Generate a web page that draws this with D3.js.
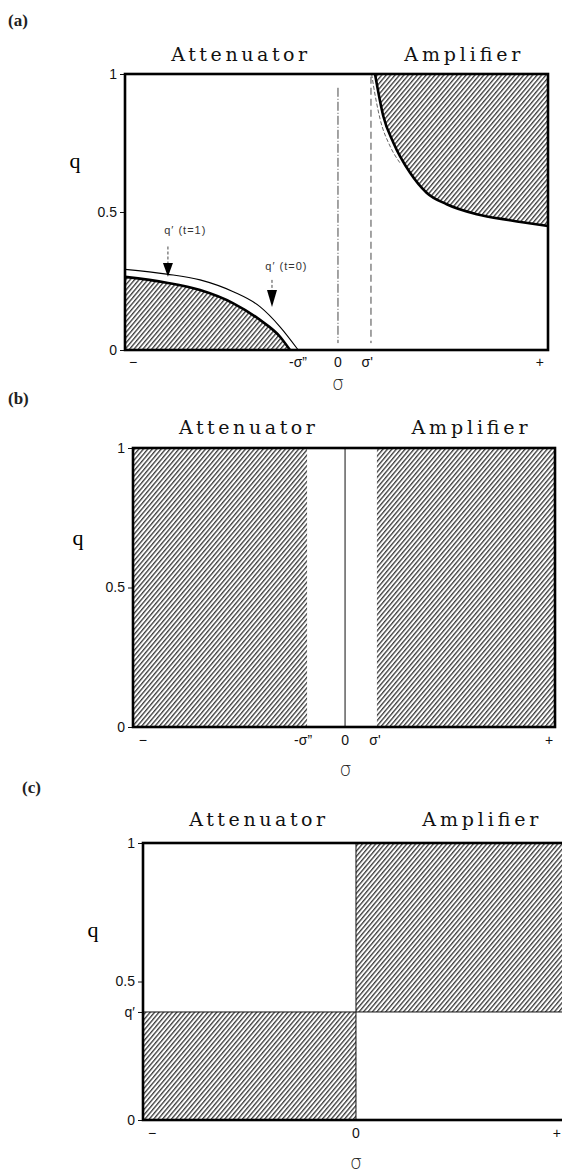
<!DOCTYPE html>
<html><head><meta charset="utf-8">
<script src="https://cdn.jsdelivr.net/npm/d3@7"></script>
<style>body{margin:0;background:#fff}svg{display:block}</style>
</head><body>
<script>
// ---------- data ----------
const panelNames = ["(a)", "(b)", "(c)"];
const regionNames = ["Attenuator", "Amplifier"];
const regionCenters = [-0.46, 0.595];
const yTickValues = [0, 0.5, 1];
const yTickLabels = ["0", "0.5", "1"];

// panel (a)
const attSigmaT1 = [-1, -0.803, -0.645, -0.488, -0.362, -0.267, -0.220];
const attQT1     = [0.265, 0.244, 0.217, 0.169, 0.109, 0.048, 0];
const attSigmaT0 = [-1, -0.803, -0.645, -0.488, -0.362, -0.267, -0.181];
const attQT0     = [0.292, 0.275, 0.254, 0.211, 0.157, 0.084, 0];
const ampSigma   = [0.182, 0.221, 0.269, 0.348, 0.426, 0.521, 0.663, 0.820, 1.0];
const ampQ       = [1, 0.848, 0.751, 0.642, 0.570, 0.528, 0.492, 0.470, 0.449];
const ampSigmaDash = [0.166, 0.175, 0.206, 0.253, 0.300];
const ampQDash     = [1, 0.957, 0.837, 0.739, 0.678];
const sigmaPrimeA = 0.163;
const xLabelsA = ["−", "-σ\u201D", "0", "σ'", "+"];
const xLabelPosA = [-0.962, -0.182, 0.007, 0.145, 0.962];

// panel (b)
const sigmaDoublePrimeB = -0.175;
const sigmaPrimeB = 0.156;
const xLabelsB = ["−", "-σ\u201D", "0", "σ'", "+"];
const xLabelPosB = [-0.953, -0.194, 0.005, 0.147, 0.972];

// panel (c)
const qPrimeC = 0.39;
const xLabelsC = ["−", "0", "+"];
const xLabelPosC = [-0.957, 0.007, 0.957];

// ---------- layout ----------
const W = 562, H = 1174;
const svg = d3.select("body").append("svg").attr("width", W).attr("height", H);
const defs = svg.append("defs");
const pat = defs.append("pattern").attr("id", "hatch")
  .attr("width", 3.4).attr("height", 10)
  .attr("patternUnits", "userSpaceOnUse")
  .attr("patternTransform", "rotate(40)");
pat.append("line").attr("x1", 0.7).attr("y1", -1).attr("x2", 0.7).attr("y2", 11)
  .attr("stroke", "#111").attr("stroke-width", 1.1);

const boxes = [
  {left:125, right:548, top:74,  bottom:350, label:[8,26],  titleDy:-13, xlabY:363,  sigY:384},
  {left:133, right:555, top:448, bottom:727, label:[8,404], titleDy:-14, xlabY:741,  sigY:770},
  {left:143, right:566, top:843, bottom:1120,label:[22,793],titleDy:-17, xlabY:1134, sigY:1163}
];
const qLabelPos = [[75,163],[78,540],[93,932]];

function makeScales(b){
  return {
    x: d3.scaleLinear().domain([-1,1]).range([b.left,b.right]),
    y: d3.scaleLinear().domain([0,1]).range([b.bottom,b.top])
  };
}

function common(i, yTicks, yLabs, xLabs, xPos){
  const b = boxes[i], s = makeScales(b);
  const g = svg.append("g");
  g.append("text").attr("x", b.label[0]).attr("y", b.label[1])
    .attr("font-family","Liberation Serif").attr("font-size",17).attr("font-weight","bold")
    .attr("fill","#222").text(panelNames[i]);
  regionNames.forEach((t,k)=>{
    g.append("text").attr("x", s.x(regionCenters[k])).attr("y", b.top + b.titleDy)
      .attr("text-anchor","middle").attr("font-family","DejaVu Serif")
      .attr("font-size",19).attr("textLength", k===0?136:116).attr("lengthAdjust","spacing")
      .attr("fill","#111").text(t);
  });
  g.append("text").attr("x", qLabelPos[i][0]).attr("y", qLabelPos[i][1])
    .attr("text-anchor","middle").attr("dominant-baseline","middle")
    .attr("font-family","Liberation Serif").attr("font-size",22).text("q");
  const yAxis = d3.axisLeft(s.y).tickValues(yTicks)
    .tickFormat((d,j)=>yLabs[j]).tickSize(5).tickPadding(3);
  const ya = g.append("g").attr("transform",`translate(${b.left},0)`).call(yAxis);
  ya.select(".domain").remove();
  ya.selectAll("text").attr("font-family","Liberation Sans").attr("font-size",14).attr("fill","#111");
  ya.selectAll("line").attr("stroke","#111");
  xLabs.forEach((t,j)=>{
    g.append("text").attr("x", s.x(xPos[j])).attr("y", b.xlabY)
      .attr("text-anchor","middle").attr("dominant-baseline","middle")
      .attr("font-family","Liberation Sans").attr("font-size",14).attr("fill","#111").text(t);
  });
  g.append("text").attr("x", s.x(0.007)).attr("y", b.sigY)
    .attr("text-anchor","middle").attr("dominant-baseline","middle")
    .attr("font-family","DejaVu Sans").attr("font-weight",300).attr("font-size",19).attr("fill","#222").text("σ");
  return {g, s, b};
}

function frame(g, b){
  g.append("rect").attr("x", b.left).attr("y", b.top)
    .attr("width", b.right-b.left).attr("height", b.bottom-b.top)
    .attr("fill","none").attr("stroke","#000").attr("stroke-width",2.6);
}

// ---------- panel (a) ----------
{
  const {g, s, b} = common(0, yTickValues, yTickLabels, xLabelsA, xLabelPosA);
  const thick = attSigmaT1.map((d,i)=>[d, attQT1[i]]);
  const thin  = attSigmaT0.map((d,i)=>[d, attQT0[i]]);
  const amp   = ampSigma.map((d,i)=>[d, ampQ[i]]);
  const ampD  = ampSigmaDash.map((d,i)=>[d, ampQDash[i]]);
  const line = d3.line().x(d=>s.x(d[0])).y(d=>s.y(d[1])).curve(d3.curveMonotoneX);
  const areaBelow = d3.area().x(d=>s.x(d[0])).y0(s.y(0)).y1(d=>s.y(d[1])).curve(d3.curveMonotoneX);
  const areaAbove = d3.area().x(d=>s.x(d[0])).y0(s.y(1)).y1(d=>s.y(d[1])).curve(d3.curveMonotoneX);
  g.append("path").attr("d", areaBelow(thick)).attr("fill","url(#hatch)");
  g.append("path").attr("d", areaAbove(amp)).attr("fill","url(#hatch)");
  g.append("path").attr("d", line(thin)).attr("fill","none").attr("stroke","#000").attr("stroke-width",1.1);
  g.append("path").attr("d", line(thick)).attr("fill","none").attr("stroke","#000").attr("stroke-width",2.6);
  g.append("path").attr("d", line(ampD)).attr("fill","none").attr("stroke","#555").attr("stroke-width",0.9).attr("stroke-dasharray","4,2");
  g.append("path").attr("d", line(amp)).attr("fill","none").attr("stroke","#000").attr("stroke-width",2.6);
  g.append("line").attr("x1", s.x(0.007)).attr("x2", s.x(0.007)).attr("y1", s.y(0.95)).attr("y2", s.y(0.025))
    .attr("stroke","#333").attr("stroke-width",0.9).attr("stroke-dasharray","9,2,1,2");
  g.append("line").attr("x1", s.x(sigmaPrimeA)).attr("x2", s.x(sigmaPrimeA)).attr("y1", s.y(0.99)).attr("y2", s.y(0.025))
    .attr("stroke","#333").attr("stroke-width",0.9).attr("stroke-dasharray","7,4");
  const ann = [
    {t:"q′ (t=1)", tx:-0.715, ty:0.42, ax:-0.797, q0:0.375, q1:0.315, q2:0.265},
    {t:"q′ (t=0)", tx:-0.237, ty:0.29, ax:-0.305, q0:0.254, q1:0.217, q2:0.156}
  ];
  ann.forEach(a=>{
    g.append("text").attr("x", s.x(a.tx)).attr("y", s.y(a.ty)).attr("text-anchor","middle")
      .attr("font-family","Liberation Sans").attr("font-size",11).attr("letter-spacing",1)
      .attr("fill","#333").text(a.t);
    const X = s.x(a.ax);
    g.append("line").attr("x1",X).attr("x2",X).attr("y1",s.y(a.q0)).attr("y2",s.y(a.q1))
      .attr("stroke","#333").attr("stroke-width",0.9).attr("stroke-dasharray","3,2");
    g.append("path").attr("d",`M${X-5},${s.y(a.q1)}L${X+5},${s.y(a.q1)}L${X},${s.y(a.q2)}Z`).attr("fill","#000");
  });
  frame(g, b);
}

// ---------- panel (b) ----------
{
  const {g, s, b} = common(1, yTickValues, yTickLabels, xLabelsB, xLabelPosB);
  const rects = [[-1, sigmaDoublePrimeB], [sigmaPrimeB, 1]];
  g.selectAll("rect.h").data(rects).join("rect").attr("class","h")
    .attr("x", d=>s.x(d[0])).attr("width", d=>s.x(d[1])-s.x(d[0]))
    .attr("y", s.y(1)).attr("height", s.y(0)-s.y(1)).attr("fill","url(#hatch)");
  g.append("line").attr("x1", s.x(0.005)).attr("x2", s.x(0.005)).attr("y1", s.y(1)).attr("y2", s.y(0))
    .attr("stroke","#111").attr("stroke-width",1);
  frame(g, b);
}

// ---------- panel (c) ----------
{
  const {g, s, b} = common(2, [0, qPrimeC, 0.5, 1], ["0", "q′", "0.5", "1"], xLabelsC, xLabelPosC);
  const rects = [[-1, 0.007, 0, qPrimeC], [0.007, 1, qPrimeC, 1]];
  g.selectAll("rect.h").data(rects).join("rect").attr("class","h")
    .attr("x", d=>s.x(d[0])).attr("width", d=>s.x(d[1])-s.x(d[0]))
    .attr("y", d=>s.y(d[3])).attr("height", d=>s.y(d[2])-s.y(d[3])).attr("fill","url(#hatch)");
  g.append("line").attr("x1", s.x(0.007)).attr("x2", s.x(0.007)).attr("y1", s.y(1)).attr("y2", s.y(0))
    .attr("stroke","#111").attr("stroke-width",1);
  g.append("line").attr("x1", s.x(-1)).attr("x2", s.x(1)).attr("y1", s.y(qPrimeC)).attr("y2", s.y(qPrimeC))
    .attr("stroke","#111").attr("stroke-width",1);
  frame(g, b);
}
</script>
</body></html>
